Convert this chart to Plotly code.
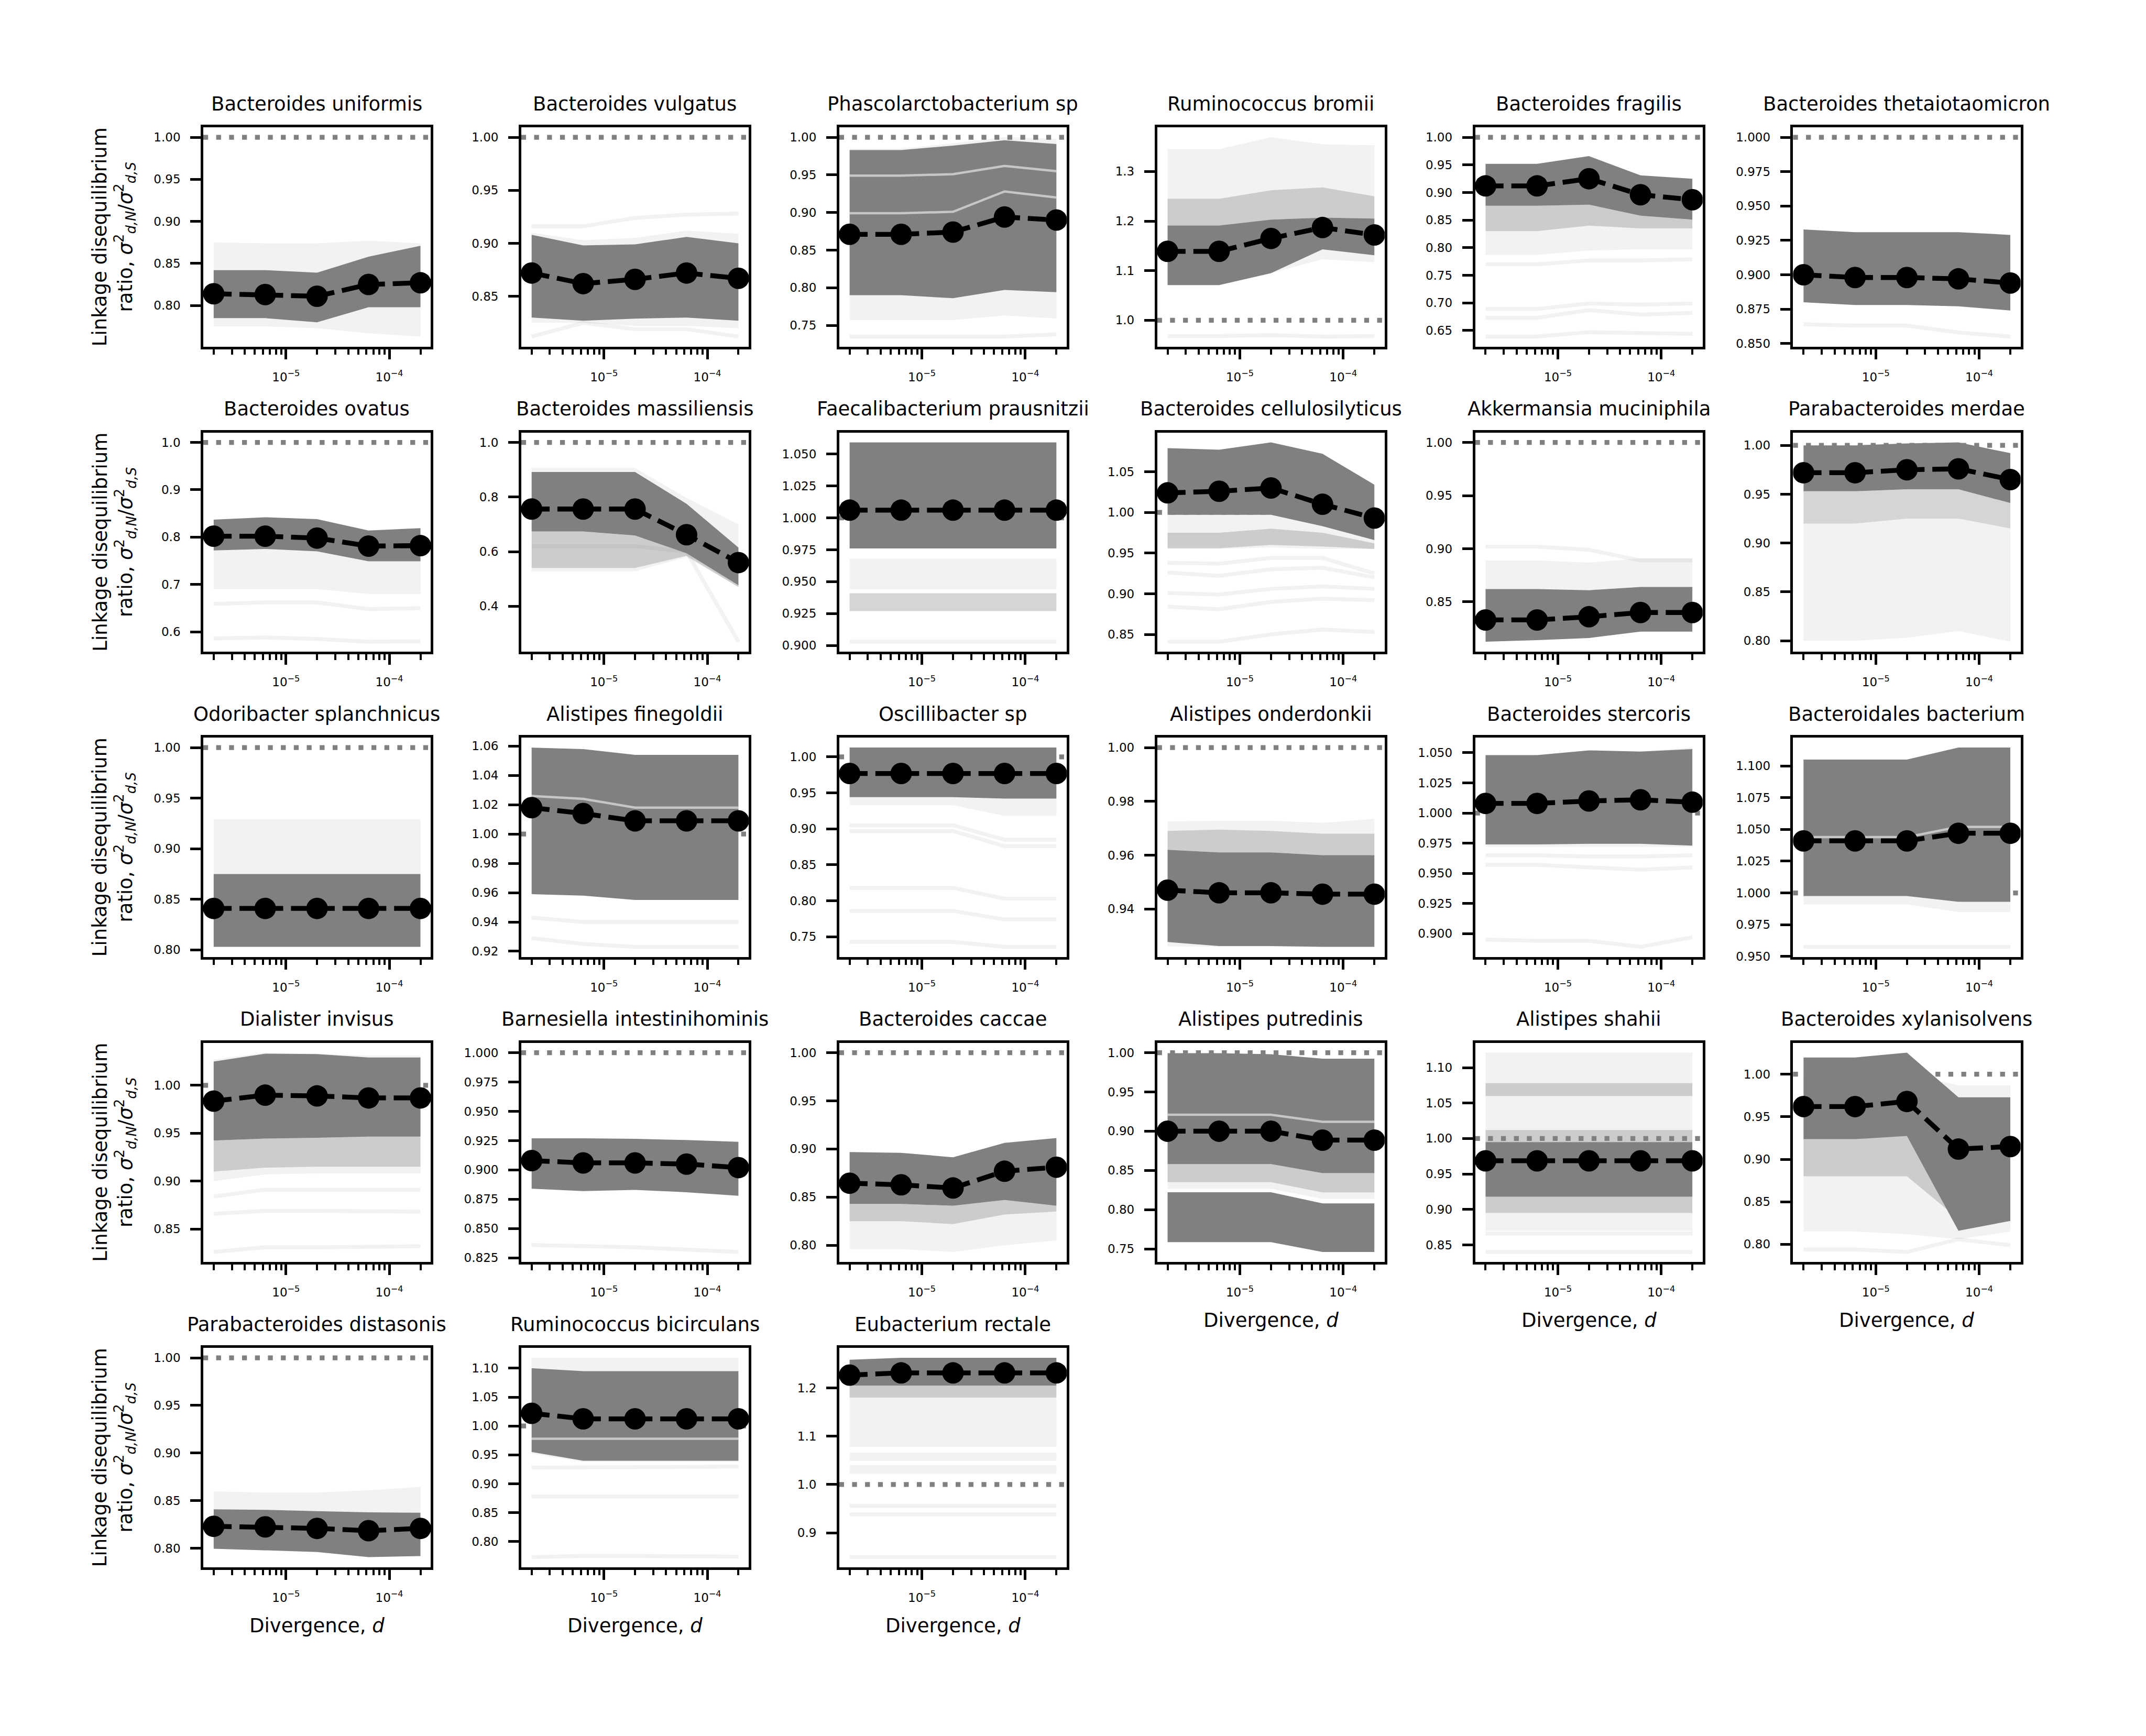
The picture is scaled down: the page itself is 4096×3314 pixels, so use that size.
import math
import plotly.graph_objects as go

# ---------------- data ----------------
SPECIES = [
    "Bacteroides uniformis", "Bacteroides vulgatus", "Phascolarctobacterium sp",
    "Ruminococcus bromii", "Bacteroides fragilis", "Bacteroides thetaiotaomicron",
    "Bacteroides ovatus", "Bacteroides massiliensis", "Faecalibacterium prausnitzii",
    "Bacteroides cellulosilyticus", "Akkermansia muciniphila", "Parabacteroides merdae",
    "Odoribacter splanchnicus", "Alistipes finegoldii", "Oscillibacter sp",
    "Alistipes onderdonkii", "Bacteroides stercoris", "Bacteroidales bacterium",
    "Dialister invisus", "Barnesiella intestinihominis", "Bacteroides caccae",
    "Alistipes putredinis", "Alistipes shahii", "Bacteroides xylanisolvens",
    "Parabacteroides distasonis", "Ruminococcus bicirculans", "Eubacterium rectale",
]

DIVERGENCE = [2.0e-6, 6.3e-6, 2.0e-5, 6.3e-5, 2.0e-4]
X_TICK_VALUES = [1e-5, 1e-4]
X_TICK_LABELS = ["10<sup>\u22125</sup>", "10<sup>\u22124</sup>"]

Y_TICK_LABELS = [
    ["0.80", "0.85", "0.90", "0.95", "1.00"],
    ["0.85", "0.90", "0.95", "1.00"],
    ["0.75", "0.80", "0.85", "0.90", "0.95", "1.00"],
    ["1.0", "1.1", "1.2", "1.3"],
    ["0.65", "0.70", "0.75", "0.80", "0.85", "0.90", "0.95", "1.00"],
    ["0.850", "0.875", "0.900", "0.925", "0.950", "0.975", "1.000"],
    ["0.6", "0.7", "0.8", "0.9", "1.0"],
    ["0.4", "0.6", "0.8", "1.0"],
    ["0.900", "0.925", "0.950", "0.975", "1.000", "1.025", "1.050"],
    ["0.85", "0.90", "0.95", "1.00", "1.05"],
    ["0.85", "0.90", "0.95", "1.00"],
    ["0.80", "0.85", "0.90", "0.95", "1.00"],
    ["0.80", "0.85", "0.90", "0.95", "1.00"],
    ["0.92", "0.94", "0.96", "0.98", "1.00", "1.02", "1.04", "1.06"],
    ["0.75", "0.80", "0.85", "0.90", "0.95", "1.00"],
    ["0.94", "0.96", "0.98", "1.00"],
    ["0.900", "0.925", "0.950", "0.975", "1.000", "1.025", "1.050"],
    ["0.950", "0.975", "1.000", "1.025", "1.050", "1.075", "1.100"],
    ["0.85", "0.90", "0.95", "1.00"],
    ["0.825", "0.850", "0.875", "0.900", "0.925", "0.950", "0.975", "1.000"],
    ["0.80", "0.85", "0.90", "0.95", "1.00"],
    ["0.75", "0.80", "0.85", "0.90", "0.95", "1.00"],
    ["0.85", "0.90", "0.95", "1.00", "1.05", "1.10"],
    ["0.80", "0.85", "0.90", "0.95", "1.00"],
    ["0.80", "0.85", "0.90", "0.95", "1.00"],
    ["0.80", "0.85", "0.90", "0.95", "1.00", "1.05", "1.10"],
    ["0.9", "1.0", "1.1", "1.2"],
]

# mean LD ratio (black dashed line with markers)
MEAN = [
    [0.814, 0.813, 0.811, 0.825, 0.827],
    [0.872, 0.862, 0.866, 0.872, 0.867],
    [0.871, 0.871, 0.874, 0.894, 0.890],
    [1.139, 1.139, 1.165, 1.187, 1.172],
    [0.912, 0.912, 0.925, 0.896, 0.887],
    [0.900, 0.898, 0.898, 0.897, 0.894],
    [0.802, 0.802, 0.798, 0.781, 0.782],
    [0.756, 0.756, 0.756, 0.662, 0.560],
    [1.006, 1.006, 1.006, 1.006, 1.006],
    [1.024, 1.026, 1.030, 1.010, 0.993],
    [0.833, 0.833, 0.836, 0.840, 0.840],
    [0.972, 0.972, 0.975, 0.976, 0.965],
    [0.841, 0.841, 0.841, 0.841, 0.841],
    [1.018, 1.014, 1.009, 1.009, 1.009],
    [0.977, 0.977, 0.977, 0.977, 0.977],
    [0.947, 0.946, 0.946, 0.9455, 0.9455],
    [1.008, 1.008, 1.010, 1.011, 1.009],
    [1.041, 1.041, 1.041, 1.047, 1.047],
    [0.9835, 0.9897, 0.9889, 0.9868, 0.9868],
    [0.908, 0.906, 0.906, 0.905, 0.902],
    [0.8645, 0.8628, 0.8595, 0.8769, 0.8811],
    [0.900, 0.900, 0.900, 0.8886, 0.8886],
    [0.9686, 0.9686, 0.9686, 0.9686, 0.9686],
    [0.962, 0.962, 0.968, 0.912, 0.915],
    [0.823, 0.8224, 0.8208, 0.8184, 0.8208],
    [1.022, 1.0124, 1.0124, 1.0124, 1.0124],
    [1.2266, 1.2311, 1.2311, 1.2311, 1.2311],
]

# dense bootstrap replicate envelopes (lower, upper) -- dark grey
DARK = [
    [([0.785, 0.785, 0.780, 0.798, 0.798], [0.842, 0.842, 0.839, 0.858, 0.871])],
    [([0.830, 0.827, 0.829, 0.830, 0.827], [0.908, 0.898, 0.899, 0.906, 0.900])],
    [([0.790, 0.790, 0.786, 0.797, 0.794], [0.983, 0.983, 0.989, 0.996, 0.991])],
    [([1.071, 1.071, 1.095, 1.143, 1.131], [1.191, 1.191, 1.203, 1.207, 1.205])],
    [([0.876, 0.876, 0.878, 0.858, 0.851], [0.952, 0.952, 0.966, 0.931, 0.925])],
    [([0.880, 0.878, 0.878, 0.877, 0.874], [0.933, 0.931, 0.931, 0.931, 0.929])],
    [([0.772, 0.775, 0.770, 0.749, 0.749], [0.837, 0.842, 0.838, 0.814, 0.819])],
    [([0.674, 0.674, 0.659, 0.594, 0.477], [0.892, 0.892, 0.892, 0.775, 0.615])],
    [([0.976, 0.976, 0.976, 0.976, 0.976], [1.059, 1.059, 1.059, 1.059, 1.059])],
    [([0.997, 0.997, 0.997, 0.983, 0.966], [1.079, 1.077, 1.086, 1.072, 1.034])],
    [([0.8125, 0.814, 0.816, 0.822, 0.822], [0.862, 0.862, 0.861, 0.864, 0.864])],
    [([0.953, 0.953, 0.955, 0.955, 0.941], [1.000, 1.000, 1.002, 1.003, 0.992])],
    [([0.803, 0.803, 0.803, 0.803, 0.803], [0.875, 0.875, 0.875, 0.875, 0.875])],
    [([0.959, 0.958, 0.955, 0.955, 0.955], [1.059, 1.058, 1.054, 1.054, 1.054])],
    [([0.944, 0.944, 0.944, 0.942, 0.942], [1.013, 1.013, 1.013, 1.013, 1.013])],
    [([0.9277, 0.9262, 0.9262, 0.9259, 0.9259], [0.962, 0.961, 0.961, 0.960, 0.960])],
    [([0.974, 0.974, 0.9745, 0.9745, 0.973], [1.048, 1.048, 1.052, 1.051, 1.053])],
    [([0.9975, 0.9975, 0.9975, 0.993, 0.993], [1.105, 1.105, 1.105, 1.1145, 1.1145])],
    [([0.9423, 0.9444, 0.9452, 0.9464, 0.9464], [1.0247, 1.033, 1.0325, 1.029, 1.029])],
    [([0.884, 0.882, 0.883, 0.881, 0.878], [0.927, 0.927, 0.9265, 0.9255, 0.924])],
    [([0.843, 0.843, 0.841, 0.847, 0.841], [0.8968, 0.896, 0.8914, 0.9063, 0.9113])],
    [([0.858, 0.858, 0.858, 0.8465, 0.8465], [0.9994, 0.9994, 0.998, 0.9924, 0.9924]),
     ([0.7585, 0.7585, 0.7585, 0.746, 0.746], [0.8222, 0.8222, 0.8222, 0.8079, 0.8079])],
    [([0.918, 0.918, 0.918, 0.918, 0.918], [0.995, 0.995, 0.995, 0.995, 0.995])],
    [([0.9237, 0.9237, 0.9274, 0.8159, 0.8276], [1.0197, 1.0197, 1.0253, 0.9728, 0.9728])],
    [([0.7995, 0.7979, 0.796, 0.7906, 0.7917], [0.8408, 0.8403, 0.8389, 0.8377, 0.8373])],
    [([0.955, 0.940, 0.940, 0.940, 0.940], [1.100, 1.095, 1.095, 1.095, 1.095])],
    [([1.205, 1.205, 1.205, 1.205, 1.205], [1.2583, 1.2623, 1.2623, 1.2623, 1.2623])],
]

# moderately dense replicate envelopes -- medium grey
MID = [
    [], [], [],
    [([1.191, 1.191, 1.203, 1.207, 1.205], [1.245, 1.245, 1.262, 1.268, 1.250])],
    [([0.830, 0.830, 0.840, 0.835, 0.835], [0.876, 0.876, 0.878, 0.858, 0.851])],
    [], [],
    [([0.540, 0.540, 0.540, 0.585, 0.470], [0.674, 0.674, 0.659, 0.594, 0.477])],
    [([0.927, 0.927, 0.927, 0.927, 0.927], [0.941, 0.941, 0.941, 0.941, 0.941])],
    [([0.956, 0.956, 0.960, 0.958, 0.955], [0.975, 0.975, 0.980, 0.975, 0.962])],
    [],
    [([0.920, 0.920, 0.925, 0.925, 0.915], [0.953, 0.953, 0.955, 0.955, 0.941])],
    [], [], [],
    [([0.962, 0.961, 0.961, 0.960, 0.960], [0.969, 0.9695, 0.969, 0.968, 0.968])],
    [], [],
    [([0.910, 0.914, 0.915, 0.915, 0.915], [0.9423, 0.9444, 0.9452, 0.9464, 0.9464])],
    [],
    [([0.825, 0.825, 0.822, 0.832, 0.835], [0.843, 0.843, 0.841, 0.847, 0.841])],
    [([0.835, 0.835, 0.835, 0.822, 0.822], [0.858, 0.858, 0.858, 0.8465, 0.8465])],
    [([1.060, 1.060, 1.060, 1.060, 1.060], [1.078, 1.078, 1.078, 1.078, 1.078]),
     ([0.895, 0.895, 0.895, 0.895, 0.895], [0.918, 0.918, 0.918, 0.918, 0.918]),
     ([0.995, 0.995, 0.995, 0.995, 0.995], [1.012, 1.012, 1.012, 1.012, 1.012])],
    [([0.880, 0.880, 0.880, 0.830, 0.830], [0.925, 0.925, 0.930, 0.870, 0.880])],
    [], [],
    [([1.180, 1.180, 1.180, 1.180, 1.180], [1.205, 1.205, 1.205, 1.205, 1.205])],
]

# sparse (out-of-interval) replicate envelopes -- very light grey
LIGHT = [
    [([0.775, 0.775, 0.773, 0.767, 0.763], [0.875, 0.874, 0.874, 0.877, 0.874])],
    [([0.825, 0.825, 0.822, 0.822, 0.820], [0.910, 0.903, 0.905, 0.912, 0.909])],
    [([0.757, 0.757, 0.757, 0.763, 0.759], [0.985, 0.985, 0.992, 1.000, 0.998])],
    [([1.071, 1.071, 1.095, 1.123, 1.117], [1.345, 1.345, 1.369, 1.355, 1.353])],
    [([0.787, 0.787, 0.795, 0.797, 0.797], [0.952, 0.952, 0.966, 0.931, 0.925])],
    [],
    [([0.690, 0.690, 0.690, 0.680, 0.680], [0.772, 0.775, 0.770, 0.752, 0.752])],
    [([0.528, 0.528, 0.528, 0.580, 0.470], [0.906, 0.906, 0.906, 0.797, 0.700])],
    [([0.944, 0.944, 0.944, 0.944, 0.944], [0.968, 0.968, 0.968, 0.968, 0.968])],
    [([0.955, 0.955, 0.957, 0.955, 0.955], [0.997, 0.997, 0.997, 0.983, 0.966])],
    [([0.862, 0.862, 0.861, 0.864, 0.864], [0.889, 0.889, 0.887, 0.891, 0.891])],
    [([0.800, 0.800, 0.803, 0.810, 0.799], [0.920, 0.920, 0.925, 0.925, 0.915])],
    [([0.875, 0.875, 0.875, 0.875, 0.875], [0.929, 0.929, 0.929, 0.929, 0.929])],
    [],
    [([0.933, 0.933, 0.933, 0.918, 0.918], [0.944, 0.944, 0.944, 0.942, 0.942])],
    [([0.926, 0.926, 0.926, 0.926, 0.926], [0.9725, 0.9728, 0.9728, 0.972, 0.9735])],
    [([0.972, 0.972, 0.972, 0.972, 0.972], [1.048, 1.048, 1.052, 1.051, 1.0543])],
    [([0.991, 0.991, 0.991, 0.985, 0.985], [1.105, 1.105, 1.105, 1.1145, 1.1145])],
    [([0.900, 0.907, 0.908, 0.908, 0.908], [1.027, 1.034, 1.033, 1.031, 1.031])],
    [],
    [([0.796, 0.796, 0.793, 0.800, 0.805], [0.843, 0.843, 0.841, 0.847, 0.841])],
    [([0.8265, 0.8265, 0.8265, 0.8136, 0.8136], [0.858, 0.858, 0.858, 0.8465, 0.8465])],
    [([0.870, 0.870, 0.870, 0.870, 0.870], [1.121, 1.121, 1.121, 1.121, 1.121])],
    [([0.815, 0.815, 0.812, 0.806, 0.815], [1.000, 1.000, 1.000, 0.987, 0.987])],
    [([0.8408, 0.8403, 0.8389, 0.8377, 0.8373], [0.8597, 0.8585, 0.8585, 0.8608, 0.8644])],
    [([0.952, 0.938, 0.938, 0.938, 0.938], [1.118, 1.118, 1.118, 1.118, 1.118])],
    [([1.078, 1.078, 1.078, 1.078, 1.078], [1.205, 1.205, 1.205, 1.205, 1.205]),
     ([1.049, 1.049, 1.049, 1.049, 1.049], [1.066, 1.066, 1.066, 1.066, 1.066]),
     ([1.022, 1.022, 1.022, 1.022, 1.022], [1.040, 1.040, 1.040, 1.040, 1.040])],
]

# isolated outlying replicate lines
STRAY = [
    [],
    [[0.812, 0.825, 0.819, 0.819, 0.812], [0.916, 0.916, 0.924, 0.927, 0.928]],
    [[0.735, 0.735, 0.735, 0.735, 0.738]],
    [[0.968, 0.968, 0.970, 0.967, 0.968]],
    [[0.770, 0.770, 0.777, 0.777, 0.779], [0.689, 0.689, 0.699, 0.697, 0.699],
     [0.673, 0.673, 0.687, 0.679, 0.682], [0.639, 0.639, 0.647, 0.645, 0.644]],
    [[0.864, 0.863, 0.863, 0.858, 0.855]],
    [[0.659, 0.662, 0.662, 0.648, 0.650], [0.586, 0.588, 0.585, 0.579, 0.580]],
    [[0.620, 0.620, 0.620, 0.600, 0.270]],
    [[0.903, 0.903, 0.903, 0.903, 0.903]],
    [[0.938, 0.937, 0.944, 0.944, 0.925], [0.926, 0.922, 0.930, 0.932, 0.920],
     [0.901, 0.899, 0.906, 0.909, 0.906], [0.884, 0.881, 0.890, 0.894, 0.892],
     [0.841, 0.841, 0.850, 0.856, 0.853]],
    [[0.902, 0.902, 0.899, 0.889, 0.889]],
    [],
    [],
    [[0.943, 0.940, 0.940, 0.940, 0.940], [0.929, 0.925, 0.923, 0.923, 0.923]],
    [[0.905, 0.905, 0.905, 0.885, 0.885], [0.897, 0.897, 0.897, 0.876, 0.876],
     [0.818, 0.818, 0.818, 0.803, 0.803], [0.786, 0.786, 0.786, 0.774, 0.774],
     [0.743, 0.743, 0.743, 0.736, 0.736]],
    [],
    [[0.965, 0.965, 0.964, 0.964, 0.965], [0.957, 0.957, 0.955, 0.953, 0.955],
     [0.895, 0.894, 0.894, 0.889, 0.897]],
    [[0.9575, 0.9575, 0.9575, 0.9575, 0.9575]],
    [[0.884, 0.891, 0.891, 0.891, 0.891], [0.866, 0.869, 0.869, 0.868, 0.868],
     [0.826, 0.831, 0.831, 0.832, 0.832]],
    [[0.836, 0.835, 0.834, 0.832, 0.830]],
    [],
    [],
    [[0.866, 0.866, 0.866, 0.866, 0.866], [0.840, 0.840, 0.840, 0.840, 0.840]],
    [[0.794, 0.794, 0.791, 0.806, 0.799]],
    [],
    [[0.928, 0.928, 0.928, 0.929, 0.930], [0.878, 0.878, 0.878, 0.878, 0.878],
     [0.773, 0.775, 0.775, 0.774, 0.774]],
    [[0.956, 0.956, 0.956, 0.956, 0.956], [0.938, 0.938, 0.938, 0.938, 0.938],
     [0.8495, 0.8495, 0.8495, 0.8495, 0.8495]],
]

# pale gaps visible inside the dark envelopes
STREAK = [
    [], [],
    [[0.899, 0.899, 0.901, 0.928, 0.920], [0.949, 0.949, 0.951, 0.962, 0.955]],
    [], [], [], [], [], [], [], [], [], [],
    [[1.026, 1.024, 1.018, 1.018, 1.018]],
    [], [], [], [[1.044, 1.044, 1.044, 1.052, 1.052]], [], [], [],
    [[0.921, 0.921, 0.921, 0.912, 0.912]],
    [], [], [],
    [[0.978, 0.978, 0.978, 0.978, 0.978]],
    [],
]

NEUTRAL = 1.0  # reference ratio drawn as the dotted line

# ---------------- styling / layout ----------------
W, H = 4096, 3314
REF_W, REF_H = 5491, 4442
S = W / REF_W
FONT = "DejaVu Sans"

C_DARK = "#808080"
C_MID = "rgba(128,128,128,0.33)"
C_LIGHT = "rgba(128,128,128,0.10)"
C_STREAK = "rgba(255,255,255,0.55)"

LW = round(6 * S, 1)
TICK_MAJ = round(27 * S)
TICK_MIN = round(15 * S)
TICK_FONT = 23
LABEL_FONT = 37

X_LOG_RANGE = [-5.8, -3.6]
MINOR_VALS = [m * 10.0 ** e for e in (-6, -5, -4) for m in range(2, 10)
              if X_LOG_RANGE[0] < math.log10(m * 10.0 ** e) < X_LOG_RANGE[1]]


def dom(r, c):
    x0 = (520 + 813.6 * c) / REF_W
    x1 = x0 + 582 / REF_W
    yt = 1 - (327 + 783.6 * r) / REF_H
    yb = yt - 563 / REF_H
    return x0, x1, yb, yt


fig = go.Figure()
annotations = []
shapes = []
layout_axes = {}

for i, name in enumerate(SPECIES):
    r, c = divmod(i, 6)
    n = i + 1
    xa = "x" if n == 1 else f"x{n}"
    ya = "y" if n == 1 else f"y{n}"
    x0, x1, yb, yt = dom(r, c)

    def band(lo, hi, color):
        fig.add_trace(go.Scatter(x=DIVERGENCE, y=lo, mode="lines", line=dict(width=0, color=color),
                                 xaxis=xa, yaxis=ya, showlegend=False, hoverinfo="skip"))
        fig.add_trace(go.Scatter(x=DIVERGENCE, y=hi, mode="lines", line=dict(width=0, color=color),
                                 fill="tonexty", fillcolor=color,
                                 xaxis=xa, yaxis=ya, showlegend=False, hoverinfo="skip"))

    def line(vals, color, width):
        fig.add_trace(go.Scatter(x=DIVERGENCE, y=vals, mode="lines",
                                 line=dict(width=width, color=color),
                                 xaxis=xa, yaxis=ya, showlegend=False, hoverinfo="skip"))

    for lo, hi in LIGHT[i]:
        band(lo, hi, C_LIGHT)
    for ln in STRAY[i]:
        line(ln, C_LIGHT, round(10 * S, 1))
    for lo, hi in MID[i]:
        band(lo, hi, C_MID)
    for lo, hi in DARK[i]:
        band(lo, hi, C_DARK)
    for ln in STREAK[i]:
        line(ln, C_STREAK, round(6 * S, 1))

    fig.add_trace(go.Scatter(
        x=DIVERGENCE, y=MEAN[i], mode="lines+markers",
        line=dict(color="black", width=round(12.5 * S, 1),
                  dash=f"{46*S:.1f}px,{20*S:.1f}px"),
        marker=dict(color="black", size=round(55 * S), line=dict(width=0)),
        xaxis=xa, yaxis=ya, showlegend=False, hoverinfo="skip"))

    # y range: matplotlib-style autoscale with 5% margins over everything drawn
    vals = [NEUTRAL] + MEAN[i]
    for group in (DARK[i], MID[i], LIGHT[i]):
        for lo, hi in group:
            vals += lo + hi
    for ln in STRAY[i]:
        vals += ln
    vmin, vmax = min(vals), max(vals)
    pad = 0.05 * (vmax - vmin)
    yr = [vmin - pad, vmax + pad]

    layout_axes["xaxis" if n == 1 else f"xaxis{n}"] = dict(
        domain=[x0, x1], anchor=ya, type="log", range=X_LOG_RANGE,
        showgrid=False, zeroline=False, showline=True, linecolor="black",
        linewidth=LW, mirror=True, ticks="outside", ticklen=TICK_MAJ,
        tickwidth=LW, tickcolor="black", tickmode="array",
        tickvals=X_TICK_VALUES, ticktext=X_TICK_LABELS,
        tickfont=dict(family=FONT, size=TICK_FONT, color="black"),
        ticklabelstandoff=14,
        minor=dict(ticks="outside", ticklen=TICK_MIN, tickwidth=round(LW * 0.8, 1),
                   tickcolor="black", tickmode="array", tickvals=MINOR_VALS, showgrid=False),
    )
    layout_axes["yaxis" if n == 1 else f"yaxis{n}"] = dict(
        domain=[yb, yt], anchor=xa, range=yr,
        showgrid=False, zeroline=False, showline=True, linecolor="black",
        linewidth=LW, mirror=True, ticks="outside", ticklen=TICK_MAJ,
        tickwidth=LW, tickcolor="black", tickmode="array",
        tickvals=[float(t) for t in Y_TICK_LABELS[i]], ticktext=Y_TICK_LABELS[i],
        tickfont=dict(family=FONT, size=TICK_FONT, color="black"),
        ticklabelstandoff=14,
    )

    # dotted reference line at ratio = 1
    shapes.append(dict(type="line", xref=f"{xa} domain", x0=0, x1=1, yref=ya,
                       y0=NEUTRAL, y1=NEUTRAL, layer="below",
                       line=dict(color="#808080", width=round(12.5 * S, 1),
                                 dash=f"{12.5*S:.1f}px,{20.6*S:.1f}px")))

    # panel title
    annotations.append(dict(text=name, xref="paper", yref="paper",
                            x=(x0 + x1) / 2, y=yt + 60 / REF_H,
                            xanchor="center", yanchor="middle", showarrow=False,
                            font=dict(family=FONT, size=LABEL_FONT, color="black")))

    if c == 0:
        annotations.append(dict(
            text="Linkage disequilibrium<br>ratio, <i>\u03c3</i><sup>2</sup><sub><i>d,N</i></sub>/"
                 "<i>\u03c3</i><sup>2</sup><sub><i>d,S</i></sub>",
            xref="paper", yref="paper", x=292 / REF_W, y=(yb + yt) / 2,
            xanchor="center", yanchor="middle", textangle=-90, showarrow=False,
            font=dict(family=FONT, size=LABEL_FONT, color="black")))

    if i >= 21:
        annotations.append(dict(
            text="Divergence, <i>d</i>", xref="paper", yref="paper",
            x=(x0 + x1) / 2, y=yb - 150 / REF_H,
            xanchor="center", yanchor="middle", showarrow=False,
            font=dict(family=FONT, size=LABEL_FONT, color="black")))

fig.update_layout(
    width=W, height=H, margin=dict(l=0, r=0, t=0, b=0),
    paper_bgcolor="white", plot_bgcolor="white",
    showlegend=False, annotations=annotations, shapes=shapes,
    font=dict(family=FONT, color="black"),
    **layout_axes,
)

fig.write_html("out.html")
